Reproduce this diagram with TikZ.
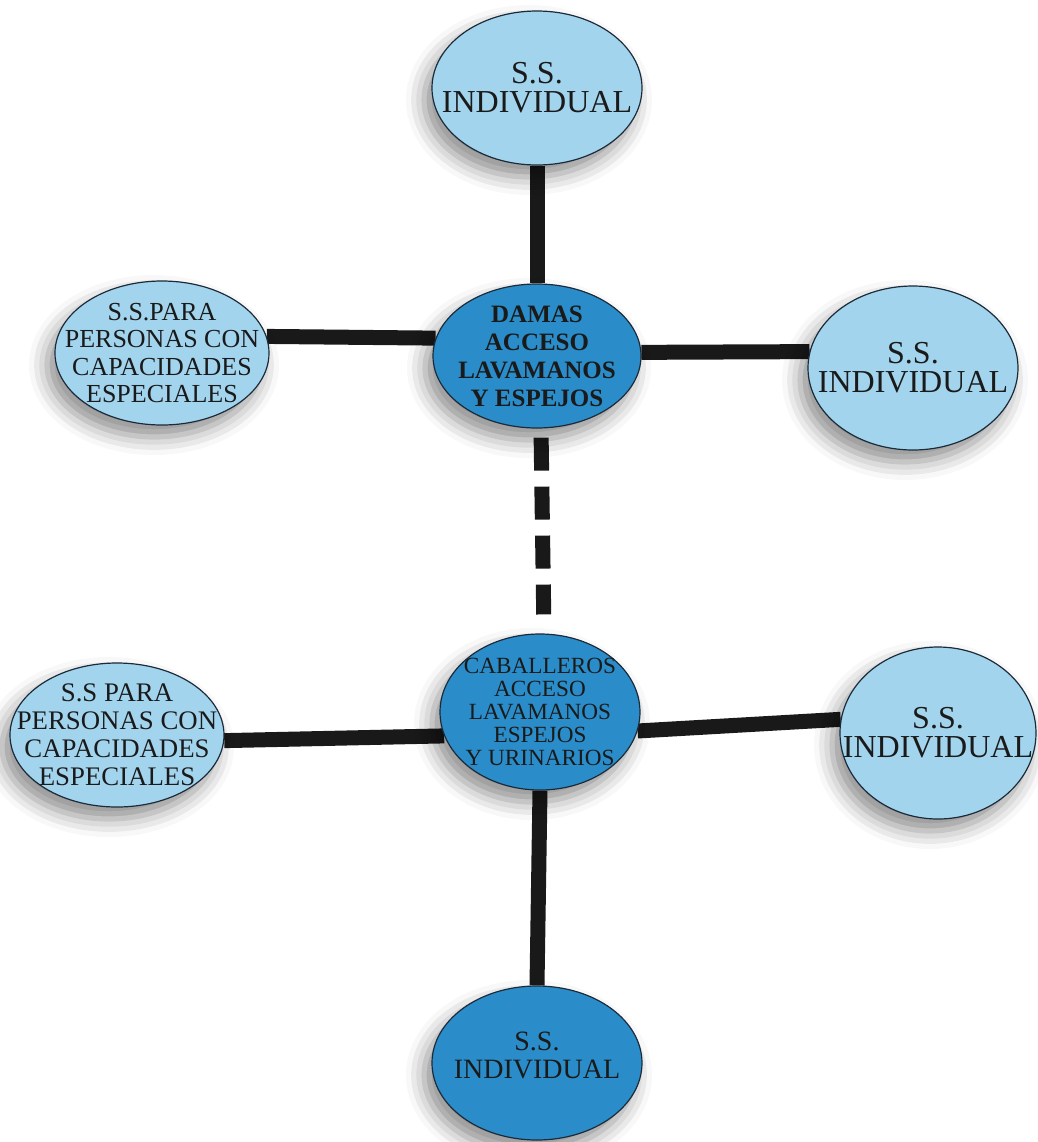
\documentclass[tikz,border=0pt]{standalone}
\usepackage{fontspec}
\setmainfont{Liberation Serif}
\usetikzlibrary{shapes.geometric,shadows.blur,backgrounds}
\definecolor{lightb}{HTML}{A3D4EE}
\definecolor{darkb}{HTML}{2A8DCA}
\definecolor{edgec}{HTML}{1C2B3A}
\definecolor{ink}{HTML}{1A1A1A}
\begin{document}
\begin{tikzpicture}[x=0.5pt,y=-0.5pt,
  bub/.style={ellipse,draw=edgec,line width=0.6pt,inner sep=0pt,
    blur shadow={shadow xshift=-4pt,shadow yshift=-6pt,shadow blur radius=9pt,shadow opacity=45}},
  lite/.style={bub,fill=lightb},
  deep/.style={bub,fill=darkb},
  lbl/.style={align=center,text=ink,inner sep=0pt},
  big/.style={lbl,font=\fontsize{16pt}{14.5pt}\selectfont},
  para/.style={lbl,font=\fontsize{13pt}{13.6pt}\selectfont},
  bar/.style={line width=7.5pt,draw=black!90},
  dbar/.style={bar,dash pattern=on 16.5pt off 8pt}]
\useasboundingbox (0,0) rectangle (1038,1142);
% ellipses
\node[lite,minimum width=105pt,minimum height=77pt] (top) at (537,88) {};
\node[deep,minimum width=104pt,minimum height=72pt] (damas) at (537,356) {};
\node[lite,minimum width=107pt,minimum height=72pt] (tl) at (162,353) {};
\node[lite,minimum width=105pt,minimum height=82pt] (tr) at (913,368) {};
\node[deep,minimum width=100pt,minimum height=78pt] (cab) at (540,712) {};
\node[lite,minimum width=107pt,minimum height=72pt] (bl) at (117,735) {};
\node[lite,minimum width=98pt,minimum height=86pt] (br) at (938,733) {};
\node[deep,minimum width=105pt,minimum height=77pt] (bot) at (537,1063) {};
% texts
\node[big] (topt) at (top) {S.S.\\INDIVIDUAL};
\node[lbl,font=\bfseries\fontsize{12.5pt}{14pt}\selectfont] (damast) at (damas) {DAMAS\\ACCESO\\LAVAMANOS\\Y ESPEJOS};
\node[para] (tlt) at (tl) {S.S.PARA\\PERSONAS CON\\CAPACIDADES\\ESPECIALES};
\node[big] (trt) at (tr) {S.S.\\INDIVIDUAL};
\node[lbl,font=\fontsize{11.6pt}{11.4pt}\selectfont] (cabt) at (cab) {CABALLEROS\\ACCESO\\LAVAMANOS\\ESPEJOS\\Y URINARIOS};
\node[lbl,font=\fontsize{13.4pt}{14pt}\selectfont] (blt) at (bl) {S.S PARA\\PERSONAS CON\\CAPACIDADES\\ESPECIALES};
\node[big] (brt) at (br) {S.S.\\INDIVIDUAL};
\node[lbl,font=\fontsize{14pt}{14pt}\selectfont] (bott) at ([yshift=4pt]bot.center) {S.S.\\INDIVIDUAL};
% connectors
\begin{scope}[on background layer]
\draw[bar] (top.south) -- (damas.north);
\draw[bar] (tl.9) -- (damas.170);
\draw[bar] (damas.2) -- (tr.171);
\draw[dbar,shorten <=4.5pt,shorten >=9.5pt] ([xshift=2pt]damas.south) -- ([xshift=2pt]cab.north);
\draw[bar] (bl.-3) -- (cab.194);
\draw[bar] (cab.-11) -- (br.172);
\draw[bar] (cab.south) -- (bot.north);
\end{scope}
\end{tikzpicture}
\end{document}
